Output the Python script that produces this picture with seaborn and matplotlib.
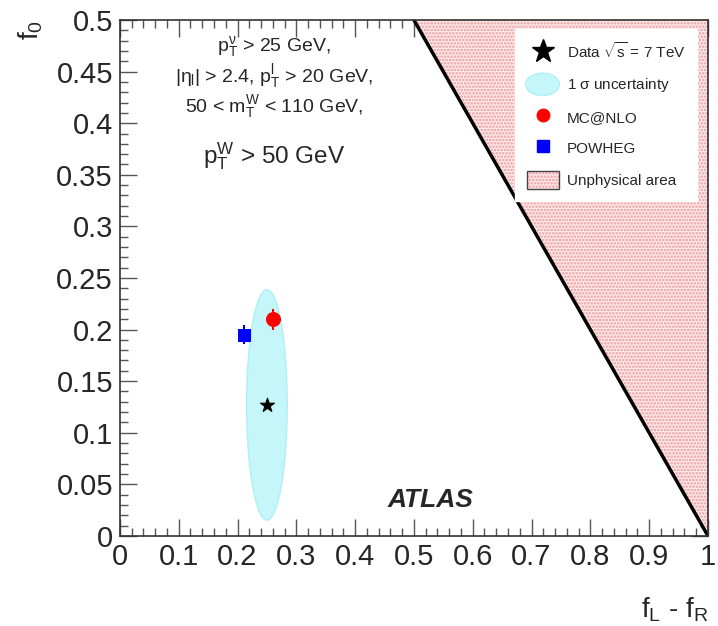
import numpy as np
import matplotlib
matplotlib.use('Agg')
import matplotlib.pyplot as plt
import matplotlib.patches as mpatches
from matplotlib.lines import Line2D
from matplotlib.legend_handler import HandlerPatch
import seaborn as sns
import pandas as pd

# measured point and 1 sigma ellipse
data_x = [0.25]
data_y = [0.127]
ell_width = 0.069
ell_height = 0.2235

# predictions
mcnlo_x = [0.261]
mcnlo_y = [0.21]
mcnlo_err = [0.01]
powheg_x = [0.211]
powheg_y = [0.195]
powheg_err = [0.009]

# boundary of physical region (f0 = 1 - (fL - fR))
bound_x = [0.5, 1.0]
bound_y = [0.5, 0.0]

x_ticks = [0, 0.1, 0.2, 0.3, 0.4, 0.5, 0.6, 0.7, 0.8, 0.9, 1]
y_ticks = [0, 0.05, 0.1, 0.15, 0.2, 0.25, 0.3, 0.35, 0.4, 0.45, 0.5]

sns.set_style('ticks')
plt.rcParams['font.family'] = ['Liberation Sans', 'DejaVu Sans']
plt.rcParams['mathtext.fontset'] = 'custom'
plt.rcParams['mathtext.rm'] = 'Liberation Sans'
plt.rcParams['mathtext.it'] = 'Liberation Sans'
plt.rcParams['mathtext.cal'] = 'Liberation Sans'
plt.rcParams['hatch.linewidth'] = 1.2

fig = plt.figure(figsize=(7.18, 6.26), dpi=100)
ax = fig.add_axes([0.167, 0.144, 0.819, 0.824])

pink_face = '#fdeaea'
pink_hatch = '#ee9999'

# unphysical area
bx = np.array(bound_x)
by = np.array(bound_y)
ax.fill_between(bx, by, 0.5, facecolor=pink_face, edgecolor=pink_hatch,
                hatch='.....', linewidth=0, zorder=1)
ax.plot(bx, by, color='black', lw=2.5, zorder=3)

# uncertainty ellipse
ell = mpatches.Ellipse((data_x[0], data_y[0]), ell_width, ell_height,
                       facecolor='#c4f6fa', edgecolor='#aef0f6', lw=1, zorder=2)
ax.add_patch(ell)

# predictions with error bars
ax.errorbar(mcnlo_x, mcnlo_y, yerr=mcnlo_err, fmt='none', ecolor='red', lw=1.5, zorder=4)
ax.errorbar(powheg_x, powheg_y, yerr=powheg_err, fmt='none', ecolor='blue', lw=1.5, zorder=4)

df_mc = pd.DataFrame({'x': mcnlo_x, 'y': mcnlo_y})
df_pw = pd.DataFrame({'x': powheg_x, 'y': powheg_y})
df_data = pd.DataFrame({'x': data_x, 'y': data_y})
sns.scatterplot(data=df_mc, x='x', y='y', ax=ax, color='red', marker='o', s=100,
                edgecolor='red', zorder=5)
sns.scatterplot(data=df_pw, x='x', y='y', ax=ax, color='blue', marker='s', s=85,
                edgecolor='blue', zorder=5)
sns.scatterplot(data=df_data, x='x', y='y', ax=ax, color='black', marker='*', s=110,
                edgecolor='black', zorder=6)

ax.set_xlim(0, 1)
ax.set_ylim(0, 0.5)
ax.set_xticks(x_ticks)
ax.set_xticklabels(['%g' % v for v in x_ticks])
ax.set_yticks(y_ticks)
ax.set_yticklabels(['%g' % v for v in y_ticks])
ax.set_xticks(np.arange(0, 1.0001, 0.02), minor=True)
ax.set_yticks(np.arange(0, 0.5001, 0.01), minor=True)
ax.tick_params(which='both', direction='in', top=True, right=True, labelsize=21,
               color='#555555', width=1)
ax.tick_params(which='major', length=12, pad=5)
ax.tick_params(which='minor', length=6)
for sp in ax.spines.values():
    sp.set_linewidth(1.2)
    sp.set_color('#333333')
    sp.set_zorder(7)

ax.set_xlabel(r'f$_{\mathrm{L}}$ - f$_{\mathrm{R}}$', fontsize=20, loc='right', labelpad=18)
ax.set_ylabel(r'f$_{0}$', fontsize=20, loc='top', labelpad=8)

# selection text
tx = 0.262
ax.text(tx, 0.474, r'p$_{\mathrm{T}}^{\nu}$ > 25 GeV,', fontsize=14, ha='center', va='center')
ax.text(tx, 0.445, r'|$\eta_{\mathrm{l}}$| > 2.4, p$_{\mathrm{T}}^{\mathrm{l}}$ > 20 GeV,',
        fontsize=14, ha='center', va='center')
ax.text(tx, 0.416, r'50 < m$_{\mathrm{T}}^{\mathrm{W}}$ < 110 GeV,', fontsize=14,
        ha='center', va='center')
ax.text(tx, 0.368, r'p$_{\mathrm{T}}^{\mathrm{W}}$ > 50 GeV', fontsize=17.5, ha='center',
        va='center')
ax.text(0.529, 0.035, 'ATLAS', fontsize=19, fontweight='bold', fontstyle='italic',
        ha='center', va='center')


class HandlerEllipse(HandlerPatch):
    def create_artists(self, legend, orig_handle, xdescent, ydescent, width, height,
                       fontsize, trans):
        center = (0.5 * width - xdescent, 0.5 * height - ydescent)
        p = mpatches.Ellipse(xy=center, width=width * 1.05, height=height * 1.2)
        self.update_prop(p, orig_handle, legend)
        p.set_transform(trans)
        return [p]


h_data = Line2D([], [], color='black', marker='*', markersize=17, linestyle='none')
h_ell = mpatches.Ellipse((0, 0), 1, 1, facecolor='#c4f6fa', edgecolor='#aef0f6')
h_mc = Line2D([], [], color='red', marker='o', markersize=9, linestyle='none')
h_pw = Line2D([], [], color='blue', marker='s', markersize=9, linestyle='none')
h_un_fill = mpatches.Patch(facecolor=pink_face, edgecolor=pink_hatch, hatch='.....', lw=0)
h_un_edge = mpatches.Patch(facecolor='none', edgecolor='#444444', lw=1)
leg = ax.legend([h_data, h_ell, h_mc, h_pw, (h_un_fill, h_un_edge)],
                [r'Data $\sqrt{s}$ = 7 TeV', r'1 $\sigma$ uncertainty', 'MC@NLO', 'POWHEG',
                 'Unphysical area'],
                handler_map={mpatches.Ellipse: HandlerEllipse()},
                loc='upper left', bbox_to_anchor=(0.672, 0.982), fontsize=11,
                frameon=True, fancybox=False, framealpha=1, edgecolor='white',
                labelspacing=0.85, handlelength=2.1, handleheight=1.5,
                borderpad=0.75, handletextpad=0.55, borderaxespad=0)
leg.set_zorder(8)

fig.savefig('out.png', dpi=100)
